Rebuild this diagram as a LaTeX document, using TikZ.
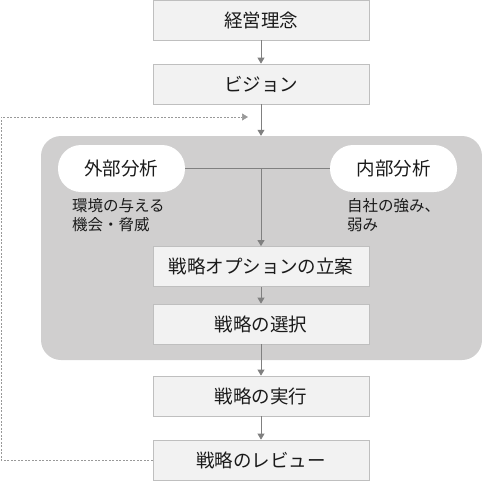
\documentclass[tikz,border=0pt]{standalone}
\usepackage{fontspec}
\setmainfont{Noto Sans CJK JP}
\usetikzlibrary{arrows.meta,positioning}
\definecolor{boxfill}{HTML}{F2F2F2}
\definecolor{boxline}{HTML}{BFBFBF}
\definecolor{areafill}{HTML}{D0CFCF}
\definecolor{linegray}{HTML}{808080}
\definecolor{textgray}{HTML}{1A1A1A}
\tikzset{
stepbox/.style={
  rectangle,
  draw=boxline,
  fill=boxfill,
  line width=0.8pt,
  minimum width=216pt,
  minimum height=40pt,
  inner sep=0pt,
  text=textgray,
  font=\fontsize{18.5pt}{19pt}\selectfont
  },
pill/.style={
  rectangle,
  rounded corners=23pt,
  fill=white,
  minimum width=127pt,
  minimum height=47pt,
  inner sep=0pt,
  text=textgray,
  font=\fontsize{18.5pt}{19pt}\selectfont
  },
note/.style={
  align=left,
  inner sep=0pt,
  text=textgray,
  font=\fontsize{15.5pt}{19pt}\selectfont
  },
flow/.style={
  draw=linegray,
  line width=0.8pt,
  -{Triangle[width=7pt,length=6pt]}
  }
}

\begin{document}
\begin{tikzpicture}[x=1pt,y=-1pt]
\useasboundingbox (0,0) rectangle (482,483);

% grey area behind the analysis part
\node (area) [rectangle, rounded corners=20pt, fill=areafill,
  minimum width=441pt, minimum height=224pt, inner sep=0pt]
  at (261.5,248) {};

\node (vision0) [stepbox] at (261,20) {経営理念};
\node (vision) [stepbox] at (261,84) {ビジョン};

\node (ext) [pill] at (121.5,168.5) {外部分析};
\node (int) [pill] at (393.5,168.5) {内部分析};
\node (extnote) [note, anchor=west] at (72,215.5) {環境の与える\\機会・脅威};
\node (intnote) [note, anchor=west] at (347,215.5) {自社の強み、\\弱み};

\node (plan) [stepbox] at (261,266.5) {戦略オプションの立案};
\node (choice) [stepbox] at (261,324) {戦略の選択};
\node (run) [stepbox] at (261,396) {戦略の実行};
\node (review) [stepbox] at (261,460) {戦略のレビュー};

\coordinate (hub) at (ext -| plan);
\coordinate (back) at (248,117);

\draw[flow] (vision0) -- (vision);
\draw[flow] (vision.south) -- (vision.south |- area.north);
\draw[draw=linegray, line width=0.8pt] (ext) -- (int);
\draw[flow] (hub) -- (plan);
\draw[flow] (plan) -- (choice);
\draw[flow] (choice) -- (run);
\draw[flow] (run) -- (review);

% loop back from the review
\draw[flow, draw=linegray!80, line width=0.6pt, dash pattern=on 2pt off 1.5pt]
  (review.west) -| (1,117) -- (back);

\end{tikzpicture}
\end{document}
